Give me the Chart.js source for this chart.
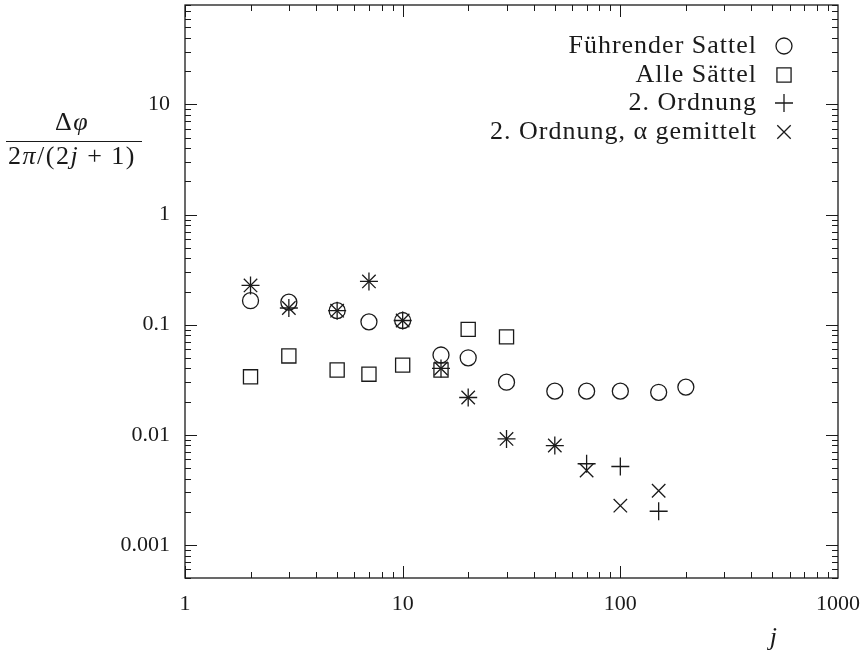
<!DOCTYPE html>
<html>
<head>
<meta charset="utf-8">
<script src="https://cdn.jsdelivr.net/npm/chart.js@4.4.0/dist/chart.umd.min.js"></script>
<style>
  html, body { margin: 0; padding: 0; background: #fff; }
</style>
</head>
<body>
<canvas id="c" width="868" height="652"></canvas>
<script>
// Legendeneinträge
const seriesNames = ['Führender Sattel', 'Alle Sättel', '2. Ordnung', '2. Ordnung, α gemittelt'];

// Führender Sattel (Kreise)
const jFuehrend = [2, 3, 5, 7, 10, 15, 20, 30, 50, 70, 100, 150, 200];
const valFuehrend = [0.165, 0.16, 0.134, 0.106, 0.109, 0.053, 0.050, 0.030, 0.0249, 0.0249, 0.0249, 0.0243, 0.0271];

// Alle Sättel (Quadrate)
const jAlle = [2, 3, 5, 7, 10, 15, 20, 30];
const valAlle = [0.0336, 0.052, 0.0387, 0.0355, 0.0429, 0.0387, 0.0906, 0.0774];

// 2. Ordnung (+)
const jOrd2 = [2, 3, 5, 7, 10, 15, 20, 30, 50, 70, 100, 150];
const valOrd2 = [0.227, 0.1416, 0.134, 0.247, 0.109, 0.040, 0.0218, 0.00916, 0.00798, 0.00545, 0.00515, 0.00202];

// 2. Ordnung, alpha gemittelt (x)
const jOrd2Mittel = [2, 3, 5, 7, 10, 15, 20, 30, 50, 70, 100, 150];
const valOrd2Mittel = [0.227, 0.1416, 0.134, 0.247, 0.109, 0.040, 0.0218, 0.00916, 0.00798, 0.00474, 0.00227, 0.0031];

// Achsen
const xTickValues = [1, 10, 100, 1000];
const yTickValues = [0.001, 0.01, 0.1, 1, 10];
const xRange = [1, 1000];
const yRange = [0.0005, 80];

const ink = '#1a1a1a';
const serif = "'Liberation Serif', 'DejaVu Serif', serif";

const toPoints = (xs, ys) => xs.map((x, i) => ({ x, y: ys[i] }));

const styles = [
  { pointStyle: 'circle', radius: 8 },
  { pointStyle: 'rect', radius: 10 },
  { pointStyle: 'cross', radius: 9 },
  { pointStyle: 'crossRot', radius: 9.5 },
];

const datasets = [
  toPoints(jFuehrend, valFuehrend),
  toPoints(jAlle, valAlle),
  toPoints(jOrd2, valOrd2),
  toPoints(jOrd2Mittel, valOrd2Mittel),
].map((data, i) => ({
  label: seriesNames[i],
  data,
  showLine: false,
  pointStyle: styles[i].pointStyle,
  pointRadius: styles[i].radius,
  pointHoverRadius: styles[i].radius,
  borderColor: ink,
  backgroundColor: 'rgba(0,0,0,0)',
  pointBorderWidth: 1.3,
}));

// Text mit gemischt kursiven Teilen zentriert zeichnen
function drawMixed(ctx, parts, cx, baseline, size) {
  const font = it => (it ? 'italic ' : '') + size + 'px ' + serif;
  let total = 0;
  parts.forEach(([t, it]) => { ctx.font = font(it); total += ctx.measureText(t).width; });
  let x = cx - total / 2;
  ctx.textAlign = 'left';
  ctx.textBaseline = 'alphabetic';
  parts.forEach(([t, it]) => {
    ctx.font = font(it);
    ctx.fillText(t, x, baseline);
    x += ctx.measureText(t).width;
  });
}

function minorTicks(lo, hi) {
  const out = [];
  for (let d = Math.pow(10, Math.floor(Math.log10(lo))); d < hi; d *= 10) {
    for (let k = 1; k < 10; k++) {
      const v = d * k;
      if (v >= lo * 0.999 && v <= hi * 1.001) out.push({ v, major: k === 1 });
    }
  }
  return out;
}

const framePlugin = {
  id: 'frame',
  afterDraw(chart) {
    const { ctx, chartArea: a, scales: { x, y } } = chart;
    ctx.save();
    ctx.strokeStyle = ink;
    ctx.lineWidth = 1;
    ctx.beginPath();
    minorTicks(xRange[0], xRange[1]).forEach(({ v, major }) => {
      const px = Math.round(x.getPixelForValue(v)) + 0.5;
      const len = major ? 12 : 6;
      ctx.moveTo(px, a.bottom); ctx.lineTo(px, a.bottom - len);
      ctx.moveTo(px, a.top); ctx.lineTo(px, a.top + len);
    });
    minorTicks(yRange[0], yRange[1]).forEach(({ v, major }) => {
      const py = Math.round(y.getPixelForValue(v)) + 0.5;
      const len = major ? 12 : 6;
      ctx.moveTo(a.left, py); ctx.lineTo(a.left + len, py);
      ctx.moveTo(a.right, py); ctx.lineTo(a.right - len, py);
    });
    ctx.stroke();

    ctx.lineWidth = 1.3;
    ctx.strokeRect(a.left, a.top, a.right - a.left, a.bottom - a.top);

    // Legende (Text rechtsbündig, Symbol rechts daneben)
    ctx.fillStyle = ink;
    ctx.font = '26px ' + serif;
    ctx.textAlign = 'right';
    ctx.textBaseline = 'alphabetic';
    if ('letterSpacing' in ctx) ctx.letterSpacing = '1px';
    const baselines = [53, 82, 110, 139];
    chart.data.datasets.forEach((ds, i) => {
      ctx.fillText(ds.label, 757, baselines[i]);
    });
    if ('letterSpacing' in ctx) ctx.letterSpacing = '0px';
    chart.data.datasets.forEach((ds, i) => {
      ctx.strokeStyle = ink;
      ctx.fillStyle = 'rgba(0,0,0,0)';
      ctx.lineWidth = 1.3;
      Chart.helpers.drawPoint(ctx, {
        pointStyle: ds.pointStyle, radius: ds.pointRadius, rotation: 0, borderWidth: 1.3,
      }, 784, baselines[i] - 7);
    });

    // Achsenbeschriftungen
    ctx.fillStyle = ink;
    if ('letterSpacing' in ctx) ctx.letterSpacing = '1.5px';
    drawMixed(ctx, [['j', true]], 774, 645, 26);
    drawMixed(ctx, [['Δ', false], ['φ', true]], 72, 130, 26);
    drawMixed(ctx, [['2', false], ['π', true], ['/(2', false], ['j', true], [' + 1)', false]], 72, 164, 26);
    if ('letterSpacing' in ctx) ctx.letterSpacing = '0px';
    ctx.strokeStyle = ink;
    ctx.lineWidth = 1;
    ctx.beginPath();
    ctx.moveTo(6, 141.5); ctx.lineTo(142, 141.5);
    ctx.stroke();
    ctx.restore();
  }
};

new Chart(document.getElementById('c').getContext('2d'), {
  type: 'scatter',
  data: { datasets },
  options: {
    responsive: false,
    animation: false,
    layout: { autoPadding: false, padding: { top: 5, right: 30, left: 0, bottom: 0 } },
    plugins: { legend: { display: false }, tooltip: { enabled: false } },
    scales: {
      x: {
        type: 'logarithmic',
        position: 'bottom',
        min: xRange[0],
        max: xRange[1],
        grid: { display: false, drawTicks: false },
        border: { display: false },
        afterBuildTicks: s => { s.ticks = xTickValues.map(v => ({ value: v })); },
        afterFit: s => { s.height = 74; s.paddingLeft = 0; s.paddingRight = 0; },
        ticks: {
          autoSkip: false, maxRotation: 0, padding: 13,
          color: ink, font: { family: serif, size: 22 },
          callback: v => String(v),
        },
      },
      y: {
        type: 'logarithmic',
        position: 'left',
        min: yRange[0],
        max: yRange[1],
        grid: { display: false, drawTicks: false },
        border: { display: false },
        afterBuildTicks: s => { s.ticks = yTickValues.map(v => ({ value: v })); },
        afterFit: s => { s.width = 185; s.paddingTop = 0; s.paddingBottom = 0; },
        ticks: {
          autoSkip: false, padding: 15,
          color: ink, font: { family: serif, size: 22 },
          callback: v => String(v),
        },
      },
    },
  },
  plugins: [framePlugin],
});
</script>
</body>
</html>
